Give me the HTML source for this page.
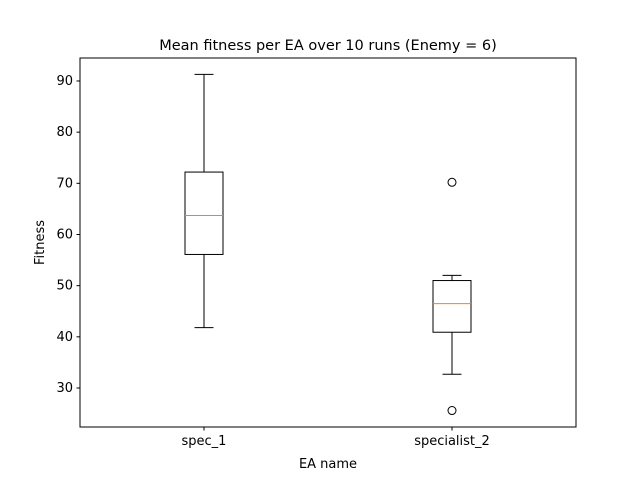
<!DOCTYPE html>
<html><head><meta charset="utf-8"><style>body{margin:0;background:#fff}svg{display:block;font-family:"DejaVu Sans","Liberation Sans",sans-serif}</style></head>
<body>
<svg id="chart" width="640" height="480" viewBox="0 0 640 480"></svg>
<script>
const categories = ["spec_1", "specialist_2"];
const whiskerLow = [41.8, 32.7];
const q1 = [56.1, 40.9];
const medians = [63.7, 46.5];
const q3 = [72.2, 51.0];
const whiskerHigh = [91.3, 52.0];
const fliers = [[], [70.2, 25.6]];
const yTicks = [30, 40, 50, 60, 70, 80, 90];

const NS = "http://www.w3.org/2000/svg";
const svg = document.getElementById("chart");
const L = 80, R = 576, T = 58, B = 427;
const yMin = 22.38, yMax = 94.49;
const y = v => B - (v - yMin) / (yMax - yMin) * (B - T);
const x = i => L + (R - L) * (i + 0.5) / categories.length;
function mk(tag, attrs, name) {
  const e = document.createElementNS(NS, tag);
  for (const k in attrs) e.setAttribute(k, attrs[k]);
  
  
  svg.appendChild(e);
  return e;
}
function line(x1, y1, x2, y2, name, color) {
  return mk("line", {x1, y1, x2, y2, stroke: color || "#000", "stroke-width": 1}, name);
}
function text(s, xx, yy, anchor, size, name, extra) {
  const t = mk("text", Object.assign({x: xx, y: yy, "text-anchor": anchor, "font-size": size, fill: "#000"}, extra || {}), name);
  t.textContent = s;
  return t;
}
yTicks.forEach(v => {
  line(L - 3.5, y(v), L, y(v), "y-tick");
  text(String(v), L - 7, y(v) + 4, "end", 13, "y-tick-label");
});
categories.forEach((c, i) => {
  const cx = x(i), hw = 19;
  line(cx, B, cx, B + 3.5, "x-tick");
  text(c, cx, B + 18, "middle", 13, "x-tick-label");
  line(cx, y(whiskerLow[i]), cx, y(q1[i]), "lower-whisker");
  line(cx, y(q3[i]), cx, y(whiskerHigh[i]), "upper-whisker");
  line(cx - 9.5, y(whiskerLow[i]), cx + 9.5, y(whiskerLow[i]), "lower-cap");
  line(cx - 9.5, y(whiskerHigh[i]), cx + 9.5, y(whiskerHigh[i]), "upper-cap");
  mk("rect", {x: cx - hw, y: y(q3[i]), width: 2 * hw, height: y(q1[i]) - y(q3[i]), fill: "none", stroke: "#000", "stroke-width": 1}, "box-" + c);
  line(cx - hw, y(medians[i]), cx + hw, y(medians[i]), "median-" + c, "#ff7f0e");
  fliers[i].forEach(v => mk("circle", {cx, cy: y(v), r: 4, fill: "none", stroke: "#000", "stroke-width": 1}, "outlier"));
});
mk("rect", {x: L, y: T, width: R - L, height: B - T, fill: "none", stroke: "#000", "stroke-width": 1}, "plot-frame");
text("Mean fitness per EA over 10 runs (Enemy = 6)", (L + R) / 2, T - 8, "middle", 14.5, "chart-title");
text("EA name", (L + R) / 2, 468, "middle", 13, "x-axis-title");
text("Fitness", 44, (T + B) / 2, "middle", 13, "y-axis-title", {transform: `rotate(-90 44 ${(T + B) / 2})`});
</script>
</body></html>
